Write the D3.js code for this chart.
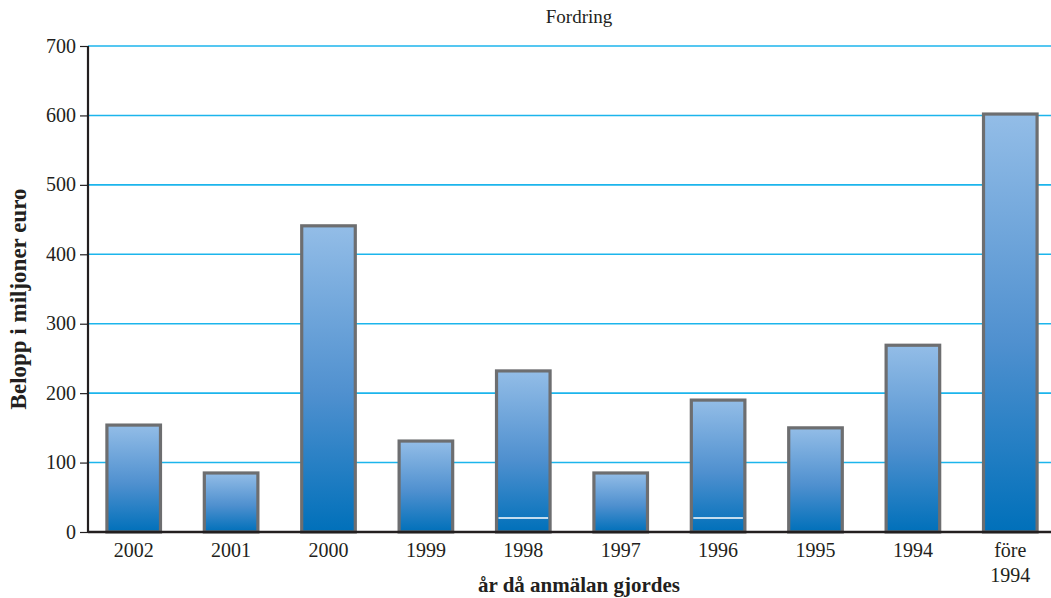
<!DOCTYPE html>
<html lang="sv">
<head>
<meta charset="UTF-8">
<title>Fordring</title>
<script src="https://d3js.org/d3.v7.min.js"></script>
<style>
body { margin: 0; background: #fff; }
text { font-family: 'Liberation Serif', 'DejaVu Serif', serif; fill: #231f20; }
</style>
</head>
<body>
<svg id="chart"></svg>
<script>
// data
const years = ['2002', '2001', '2000', '1999', '1998', '1997', '1996', '1995', '1994', 'före 1994'];
const amounts = [154, 85, 441, 131, 232, 85, 190, 150, 269, 602];
const splitAt = [null, null, null, null, 20, null, 20, null, null, null]; // white line inside some bars
const yTicks = [0, 100, 200, 300, 400, 500, 600, 700];

const width = 1051, height = 598;
const margin = {left: 88, right: 0, top: 46, bottom: 66};

const svg = d3.select('#chart').attr('width', width).attr('height', height);

const x = d3.scaleBand()
    .domain(years)
    .range([85, 1059])
    .paddingInner(0.45)
    .paddingOuter(0.225);

const y = d3.scaleLinear()
    .domain([0, 700])
    .range([height - margin.bottom, margin.top]);

// gradient for the bars
const grad = svg.append('defs').append('linearGradient')
    .attr('id', 'barGrad')
    .attr('x1', 0).attr('y1', 0).attr('x2', 0).attr('y2', 1);
grad.append('stop').attr('offset', '0%').attr('stop-color', '#93bde7');
grad.append('stop').attr('offset', '55%').attr('stop-color', '#4f90cf');
grad.append('stop').attr('offset', '100%').attr('stop-color', '#0070ba');

// grid lines
svg.append('g')
    .selectAll('line')
    .data(yTicks.filter(d => d > 0))
    .join('line')
    .attr('x1', margin.left).attr('x2', width)
    .attr('y1', d => y(d)).attr('y2', d => y(d))
    .attr('stroke', '#1cb5ec')
    .attr('stroke-width', 1.6);

// bars
svg.append('g')
    .selectAll('rect')
    .data(amounts)
    .join('rect')
    .attr('x', (d, i) => x(years[i]))
    .attr('y', d => y(d))
    .attr('width', x.bandwidth())
    .attr('height', d => y(0) - y(d))
    .attr('fill', 'url(#barGrad)')
    .attr('stroke', '#6d6e70')
    .attr('stroke-width', 3.2);

svg.append('g')
    .selectAll('line')
    .data(splitAt.map((v, i) => ({v, i})).filter(d => d.v != null))
    .join('line')
    .attr('x1', d => x(years[d.i]) + 2)
    .attr('x2', d => x(years[d.i]) + x.bandwidth() - 2)
    .attr('y1', d => y(d.v)).attr('y2', d => y(d.v))
    .attr('stroke', '#fff')
    .attr('stroke-width', 1.5);

// y axis
const yAxis = svg.append('g')
    .attr('transform', `translate(${margin.left},0)`)
    .call(d3.axisLeft(y).tickValues(yTicks).tickSize(8).tickPadding(4));
yAxis.select('.domain').attr('stroke', '#231f20').attr('stroke-width', 2.2).attr('d', `M0,${y(700)}V${y(0)}`);
yAxis.selectAll('.tick line').attr('stroke', '#231f20').attr('stroke-width', 1.2);
yAxis.selectAll('.tick text')
    .style('font-family', "'Liberation Serif', serif")
    .style('font-size', '20px')
    .attr('fill', '#231f20')
    .attr('dy', '0.3em');

// x axis
const xAxis = svg.append('g')
    .attr('transform', `translate(0,${y(0)})`)
    .call(d3.axisBottom(x).tickSize(0).tickPadding(11));
xAxis.select('.domain').attr('stroke', '#231f20').attr('stroke-width', 2.4).attr('d', `M${margin.left},0H${width}`);
xAxis.selectAll('.tick text')
    .style('font-family', "'Liberation Serif', serif")
    .style('font-size', '20px')
    .attr('fill', '#231f20')
    .each(function(d) {
        const words = d.split(' ');
        if (words.length > 1) {
            const t = d3.select(this).text('');
            words.forEach((w, k) => {
                t.append('tspan').attr('x', 0).attr('dy', k === 0 ? '0.71em' : '1.25em').text(w);
            });
        }
    });

// titles
svg.append('text')
    .attr('x', 579).attr('y', 23)
    .attr('text-anchor', 'middle')
    .style('font-size', '19px')
    .text('Fordring');

svg.append('text')
    .attr('x', 579).attr('y', 592)
    .attr('text-anchor', 'middle')
    .style('font-size', '21px')
    .style('font-weight', 'bold')
    .text('år då anmälan gjordes');

svg.append('text')
    .attr('transform', 'translate(26,299) rotate(-90)')
    .attr('text-anchor', 'middle')
    .style('font-size', '23px')
    .style('font-weight', 'bold')
    .text('Belopp i miljoner euro');
</script>
</body>
</html>
